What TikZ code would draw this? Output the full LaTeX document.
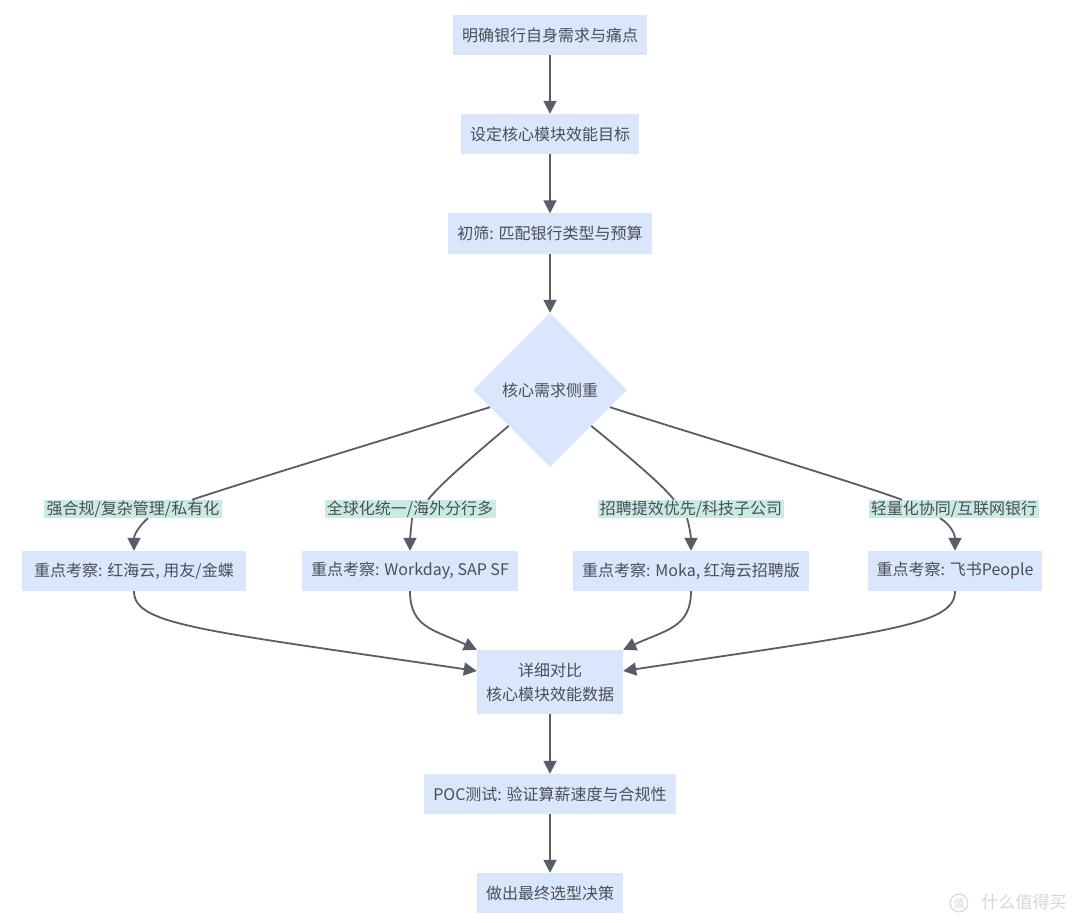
\documentclass[tikz,border=0pt]{standalone}
\usepackage{fontspec}
\setmainfont{Noto Sans CJK SC}
\usepackage{xcolor}
\usepackage{tikz}
\usetikzlibrary{shapes.geometric,arrows.meta}

\definecolor{boxblue}{RGB}{218,230,252}
\definecolor{labelmint}{RGB}{200,236,228}
\definecolor{edgegray}{RGB}{88,93,103}
\definecolor{textgray}{RGB}{74,78,86}
\definecolor{markgray}{RGB}{214,214,214}

\begin{document}
\begin{tikzpicture}[x=1pt, y=-1pt,
    box/.style={fill=boxblue, text=textgray, minimum height=40pt, inner xsep=9pt,
        font=\fontsize{16}{24}\selectfont},
    choice/.style={diamond, aspect=1, fill=boxblue, text=textgray, minimum width=154pt,
        minimum height=154pt, inner sep=0pt, font=\fontsize{16}{24}\selectfont},
    tag/.style={fill=labelmint, text=textgray, inner xsep=1pt, inner ysep=1pt,
        text height=13pt, text depth=3pt, font=\fontsize{16}{20}\selectfont},
    edge/.style={draw=edgegray, line width=1.8pt},
    arrow/.style={edge, -{Triangle[length=13pt,width=13pt]}}]

            \useasboundingbox (0,0) rectangle (1080,923);
            \fill[white] (0,0) rectangle (1080,923);

            \node[box, minimum width=194pt] (need) at (550,35) {明确银行自身需求与痛点};
            \node[box, minimum width=177pt] (goal) at (550,134) {设定核心模块效能目标};
            \node[box, minimum width=204pt] (screen) at (550,233.5) {初筛: 匹配银行类型与预算};
            \node[choice] (focus) at (550,390) {核心需求侧重};

            \node[tag, minimum width=178pt] (t1) at (133,509) {强合规/复杂管理/私有化};
            \node[tag, minimum width=171pt] (t2) at (410,509) {全球化统一/海外分行多};
            \node[tag, minimum width=186pt] (t3) at (691,509) {招聘提效优先/科技子公司};
            \node[tag, minimum width=170pt] (t4) at (954,509) {轻量化协同/互联网银行};

            \node[box, minimum width=224pt] (pick1) at (134,571) {重点考察: 红海云, 用友/金蝶};
            \node[box, minimum width=210pt] (pick2) at (410,571) {重点考察: Workday, SAP SF};
            \node[box, minimum width=236pt] (pick3) at (691,571) {重点考察: Moka, 红海云招聘版};
            \node[box, minimum width=172pt] (pick4) at (955,571) {重点考察: 飞书People};

            \node[box, minimum width=146pt, minimum height=64pt, align=center] (compare) at (550,682) {详细对比\\核心模块效能数据};
            \node[box, minimum width=250pt] (poc) at (550,794) {POC测试: 验证算薪速度与合规性};
            \node[box, minimum width=146pt] (decide) at (550,893) {做出最终选型决策};

            \draw[arrow] (need) -- (goal);
            \draw[arrow] (goal) -- (screen);
            \draw[arrow] (screen) -- (focus);

            \draw[edge] (focus.196) .. controls (399,435) and (232,486) .. ([xshift=59pt]t1.north); % focus-t1
            \draw[arrow] ([xshift=15pt]t1.south) .. controls (141,524) and (134,534) .. (pick1.north); % t1-pick1
            \draw[edge] (focus.221) .. controls (478,452) and (440,484) .. ([xshift=18pt]t2.north); % focus-t2
            \draw[arrow] ([xshift=2pt]t2.south) .. controls (411,530) and (410,538) .. (pick2.north); % t2-pick2
            \draw[edge] (focus.319) .. controls (623,452) and (662,484) .. ([xshift=-17pt]t3.north); % focus-t3
            \draw[arrow] ([xshift=-4pt]t3.south) .. controls (690,528) and (691,538) .. (pick3.north); % t3-pick3
            \draw[edge] (focus.344) .. controls (700,436) and (860,484) .. ([xshift=-52pt]t4.north); % focus-t4
            \draw[arrow] ([xshift=-14pt]t4.south) .. controls (950,524) and (955,534) .. (pick4.north); % t4-pick4

            \draw[arrow] (pick1.south) .. controls (134,625) and (200,630) .. ([yshift=11pt]compare.west); % pick1-compare
            \draw[arrow] (pick2.south) .. controls (410,628) and (435,630) .. (compare.north west); % pick2-compare
            \draw[arrow] (pick3.south) .. controls (691,628) and (665,630) .. (compare.north east); % pick3-compare
            \draw[arrow] (pick4.south) .. controls (955,625) and (890,631) .. ([yshift=11pt]compare.east); % pick4-compare

            \draw[arrow] (compare) -- (poc);
            \draw[arrow] (poc) -- (decide);

            \node[circle, draw=markgray, line width=1pt, text=markgray, inner sep=1pt,
                font=\fontsize{11}{11}\selectfont] (seal) at (959,903) {值};
            \node[text=markgray, anchor=west, font=\fontsize{17}{17}\selectfont] (brand) at (978,902) {什么值得买};
        \end{tikzpicture}
\end{document}
